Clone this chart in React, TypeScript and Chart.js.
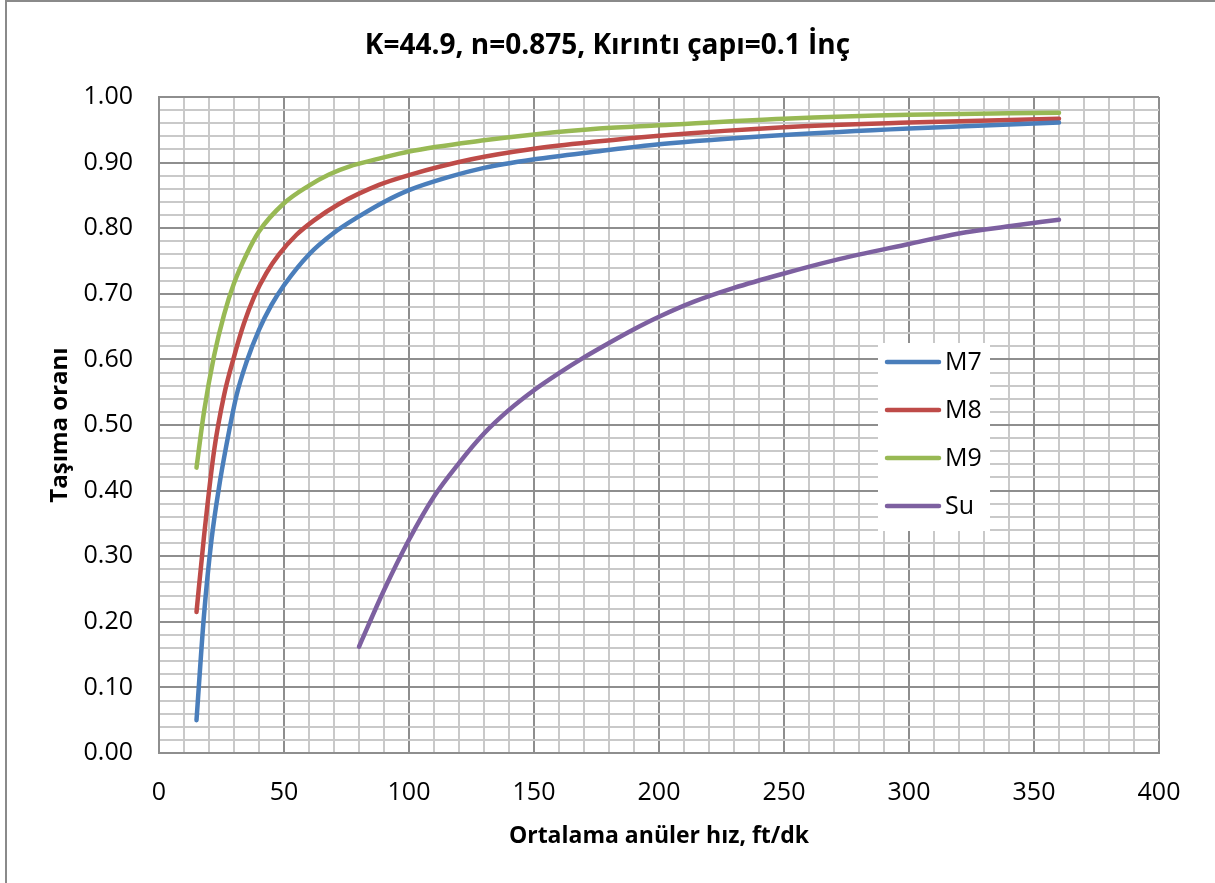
import React, { useEffect, useRef } from "react";
import { Chart, registerables } from "chart.js";

Chart.register(...registerables);

// Ortalama anüler hız (ft/dk) and taşıma oranı for each fluid
const m7X = [15, 18, 21, 24, 27, 31, 35, 40, 45, 50, 60, 70, 80, 90, 100, 115, 130, 150, 175, 200, 250, 300, 360];
const m7Y = [0.05, 0.21, 0.325, 0.405, 0.47, 0.545, 0.596, 0.645, 0.683, 0.713, 0.76, 0.793, 0.818, 0.84, 0.858, 0.877, 0.892, 0.905, 0.917, 0.928, 0.942, 0.952, 0.961];

const m8X = [15, 18, 22, 26, 30, 34, 38, 43, 48, 55, 62, 72, 88, 100, 125, 150, 175, 200, 250, 300, 360];
const m8Y = [0.215, 0.33, 0.46, 0.545, 0.604, 0.655, 0.695, 0.732, 0.76, 0.79, 0.812, 0.837, 0.866, 0.881, 0.905, 0.921, 0.932, 0.941, 0.954, 0.961, 0.967];

const m9X = [15, 18, 22, 26, 30, 35, 40, 50, 60, 68, 76, 88, 100, 130, 150, 176, 200, 250, 300, 360];
const m9Y = [0.435, 0.52, 0.605, 0.668, 0.716, 0.76, 0.795, 0.838, 0.865, 0.882, 0.894, 0.906, 0.917, 0.934, 0.943, 0.952, 0.957, 0.967, 0.973, 0.976];

const suX = [80, 90, 100, 110, 120, 130, 140, 150, 160, 170, 180, 190, 200, 214, 230, 250, 270, 300, 320, 340, 360];
const suY = [0.162, 0.248, 0.325, 0.391, 0.442, 0.487, 0.523, 0.553, 0.579, 0.603, 0.625, 0.646, 0.665, 0.688, 0.709, 0.731, 0.751, 0.776, 0.792, 0.803, 0.813];

const seriesNames = ["M7", "M8", "M9", "Su"];
const seriesColors = ["#4a7ebb", "#be4b48", "#98b954", "#7d60a0"];

const chartTitle = "K=44.9, n=0.875, Kırıntı çapı=0.1 İnç";
const xTitle = "Ortalama anüler hız, ft/dk";
const yTitle = "Taşıma oranı";

const FONT = "'Open Sans', 'Liberation Sans', sans-serif";
const MAJOR = "#8e8e8e";
const MINOR = "#c9c9c9";

const toPoints = (xs: number[], ys: number[]) => xs.map((x, i) => ({ x, y: ys[i] }));

// Legend box drawn inside the plot, with a white backing over the grid
const insideLegend = {
  id: "insideLegend",
  afterDatasetsDraw(chart: any) {
    const { ctx } = chart;
    ctx.save();
    ctx.fillStyle = "#ffffff";
    ctx.fillRect(878, 343, 112, 188);
    ctx.font = `25px ${FONT}`;
    ctx.textBaseline = "middle";
    ctx.lineCap = "round";
    seriesNames.forEach((name, i) => {
      const y = 362 + i * 48;
      ctx.strokeStyle = seriesColors[i];
      ctx.lineWidth = 4.5;
      ctx.beginPath();
      ctx.moveTo(887, y);
      ctx.lineTo(939, y);
      ctx.stroke();
      ctx.fillStyle = "#000000";
      ctx.fillText(name, 945, y + 1);
    });
    ctx.restore();
  },
};

// Frame edges of the chart sheet
const sheetFrame = {
  id: "sheetFrame",
  beforeDraw(chart: any) {
    const { ctx, width, height } = chart;
    ctx.save();
    ctx.fillStyle = "#ffffff";
    ctx.fillRect(0, 0, width, height);
    ctx.strokeStyle = "#8a8a8a";
    ctx.lineWidth = 2;
    ctx.beginPath();
    ctx.moveTo(6, height);
    ctx.lineTo(6, 1);
    ctx.lineTo(width, 1);
    ctx.stroke();
    ctx.restore();
  },
};

const isMajorX = (v: number) => Math.round(v) % 50 === 0;
const isMajorY = (v: number) => Math.round(v * 100) % 10 === 0;

export default function App() {
  const canvasRef = useRef<HTMLCanvasElement | null>(null);

  useEffect(() => {
    if (!canvasRef.current) return;
    const data = [
      toPoints(m7X, m7Y),
      toPoints(m8X, m8Y),
      toPoints(m9X, m9Y),
      toPoints(suX, suY),
    ];
    const chart = new Chart(canvasRef.current, {
      type: "line",
      data: {
        datasets: data.map((pts, i) => ({
          label: seriesNames[i],
          data: pts,
          borderColor: seriesColors[i],
          backgroundColor: seriesColors[i],
          borderWidth: 4.5,
          pointRadius: 0,
          cubicInterpolationMode: "monotone" as const,
          borderCapStyle: "round" as const,
          borderJoinStyle: "round" as const,
          fill: false,
        })),
      },
      plugins: [sheetFrame, insideLegend],
      options: {
        animation: false,
        responsive: false,
        maintainAspectRatio: false,
        layout: { padding: 0 },
        plugins: {
          legend: { display: false },
          tooltip: { enabled: false },
          title: {
            display: true,
            text: chartTitle,
            color: "#000000",
            font: { family: FONT, size: 28, weight: "bold" },
            padding: { top: 29, bottom: 34.4 },
          },
        },
        scales: {
          x: {
            type: "linear",
            min: 0,
            max: 400,
            afterFit: (scale: any) => {
              scale.height = 130;
            },
            ticks: {
              stepSize: 10,
              autoSkip: false,
              maxRotation: 0,
              padding: 25,
              color: "#000000",
              font: { family: FONT, size: 25 },
              callback: (v: any) => (isMajorX(Number(v)) ? String(v) : ""),
            },
            grid: {
              drawTicks: false,
              lineWidth: 2,
              color: (c: any) => (c.tick && isMajorX(c.tick.value) ? MAJOR : MINOR),
            },
            border: { display: true, color: MAJOR, width: 2 },
            title: {
              display: true,
              text: xTitle,
              color: "#000000",
              font: { family: FONT, size: 23, weight: "bold" },
              padding: { top: 0, bottom: 33 },
            },
          },
          y: {
            type: "linear",
            min: 0,
            max: 1,
            afterFit: (scale: any) => {
              scale.width = 159;
            },
            ticks: {
              stepSize: 0.02,
              autoSkip: false,
              padding: 26,
              color: "#000000",
              font: { family: FONT, size: 25 },
              callback: (v: any) => (isMajorY(Number(v)) ? Number(v).toFixed(2) : ""),
            },
            grid: {
              drawTicks: false,
              lineWidth: 2,
              color: (c: any) => (c.tick && isMajorY(c.tick.value) ? MAJOR : MINOR),
            },
            border: { display: true, color: MAJOR, width: 2 },
            title: {
              display: true,
              text: yTitle,
              color: "#000000",
              font: { family: FONT, size: 24, weight: "bold" },
              padding: { top: 45.6, bottom: 0 },
            },
          },
          // blank margin on the right of the plot
          yRight: {
            type: "linear",
            position: "right",
            min: 0,
            max: 1,
            afterFit: (scale: any) => {
              scale.width = 56;
            },
            grid: { display: false, drawTicks: false },
            ticks: { display: false },
            border: { display: false },
          },
        },
      },
    });
    return () => chart.destroy();
  }, []);

  return (
    <div style={{ position: "absolute", left: 0, top: 0, width: 1215, height: 883, background: "#fff" }}>
      <canvas ref={canvasRef} width={1215} height={883} style={{ display: "block" }} />
    </div>
  );
}
